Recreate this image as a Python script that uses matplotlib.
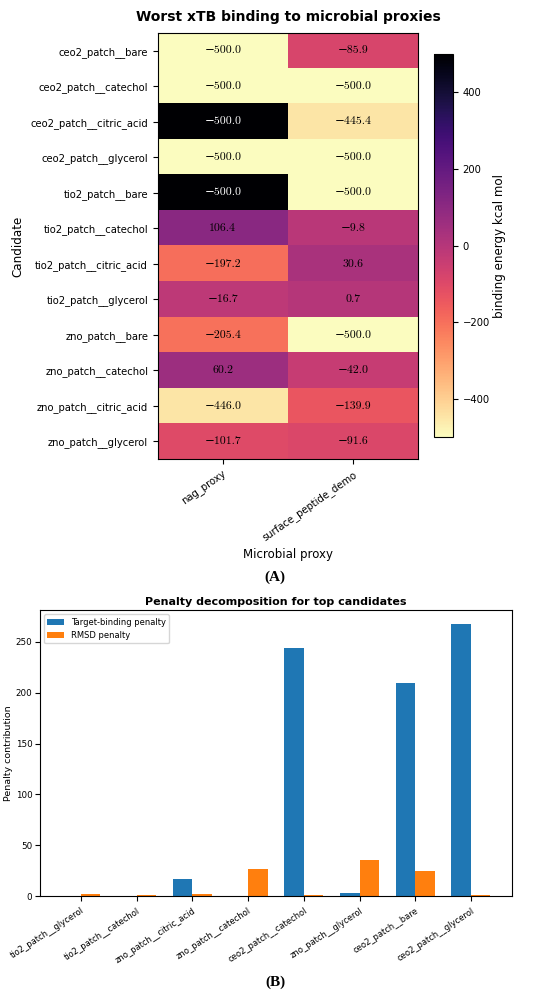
import numpy as np
import matplotlib
matplotlib.use('Agg')
import matplotlib.pyplot as plt

# heatmap data
candidates = ['ceo2_patch__bare', 'ceo2_patch__catechol', 'ceo2_patch__citric_acid',
              'ceo2_patch__glycerol', 'tio2_patch__bare', 'tio2_patch__catechol',
              'tio2_patch__citric_acid', 'tio2_patch__glycerol', 'zno_patch__bare',
              'zno_patch__catechol', 'zno_patch__citric_acid', 'zno_patch__glycerol']
proxies = ['nag_proxy', 'surface_peptide_demo']

# values written in the cells
nag_annot = [-500.0, -500.0, -500.0, -500.0, -500.0, 106.4, -197.2, -16.7, -205.4, 60.2, -446.0, -101.7]
pep_annot = [-85.9, -500.0, -445.4, -500.0, -500.0, -9.8, 30.6, 0.7, -500.0, -42.0, -139.9, -91.6]
# values behind the cell colours
nag_color = [-500.0, -500.0, 500.0, -500.0, 500.0, 106.4, -197.2, -16.7, -205.4, 60.2, -446.0, -101.7]
pep_color = [-85.9, -500.0, -445.4, -500.0, -500.0, -9.8, 30.6, 0.7, -500.0, -42.0, -139.9, -91.6]

# bar chart data
top_candidates = ['tio2_patch__glycerol', 'tio2_patch__catechol', 'zno_patch__citric_acid',
                  'zno_patch__catechol', 'ceo2_patch__catechol', 'zno_patch__glycerol',
                  'ceo2_patch__bare', 'ceo2_patch__glycerol']
target_penalty = [0.0, 0.0, 16.7, 0.5, 244.0, 3.0, 210.0, 267.7]
rmsd_penalty = [2.3, 1.0, 2.0, 26.5, 1.3, 35.4, 24.9, 1.3]

fig = plt.figure(figsize=(5.5, 9.98), dpi=100)

# panel A
ax1 = fig.add_axes([0.287, 0.540, 0.473, 0.427])
colors = np.array([nag_color, pep_color]).T
annots = np.array([nag_annot, pep_annot]).T
im = ax1.imshow(colors, cmap='magma_r', vmin=-500, vmax=500, aspect='auto')
for i in range(len(candidates)):
    for j in range(len(proxies)):
        c = 'white' if colors[i, j] > 300 else 'black'
        label = f'{annots[i, j]:.1f}'.replace('-', '\u2212')
        ax1.text(j, i, label, ha='center', va='center', fontsize=8.5, color=c,
                 family=['cmr10', 'DejaVu Serif'])
ax1.set_xticks(range(len(proxies)))
ax1.set_xticklabels(proxies, rotation=35, ha='right', rotation_mode='anchor', fontsize=7.2)
ax1.set_yticks(range(len(candidates)))
ax1.set_yticklabels(candidates, fontsize=7.2)
ax1.set_xlabel('Microbial proxy', fontsize=8.5)
ax1.set_ylabel('Candidate', fontsize=8.6)
ax1.set_title('Worst xTB binding to microbial proxies', fontsize=10, fontweight='bold', pad=8.5)

cax = fig.add_axes([0.789, 0.562, 0.0345, 0.384])
cb = fig.colorbar(im, cax=cax)
cb.set_ticks([-400, -200, 0, 200, 400])
cb.ax.tick_params(labelsize=7.2)
cb.set_label('binding energy kcal mol', fontsize=8.6, labelpad=2)

fig.text(0.5, 1 - 577 / 998, '(A)', ha='center', va='center',
         fontsize=11, fontweight='bold', family='Liberation Serif')

# panel B
ax2 = fig.add_axes([0.0727, 0.102, 0.858, 0.2866])
x = np.arange(len(top_candidates))
w = 0.35
ax2.bar(x - w / 2, target_penalty, w, label='Target-binding penalty', color='#1f77b4')
ax2.bar(x + w / 2, rmsd_penalty, w, label='RMSD penalty', color='#ff7f0e')
ax2.set_xticks(x)
ax2.set_xticklabels(top_candidates, rotation=33, ha='right', rotation_mode='anchor', fontsize=6)
ax2.tick_params(axis='y', labelsize=6.3, pad=2)
ax2.set_ylabel('Penalty contribution', fontsize=6.8, labelpad=2)
ax2.set_title('Penalty decomposition for top candidates', fontsize=8, fontweight='bold', pad=4)
ax2.legend(loc='upper left', fontsize=6)

fig.text(0.5, 1 - 982 / 998, '(B)', ha='center', va='center',
         fontsize=11, fontweight='bold', family='Liberation Serif')

fig.savefig('out.png', dpi=100)
